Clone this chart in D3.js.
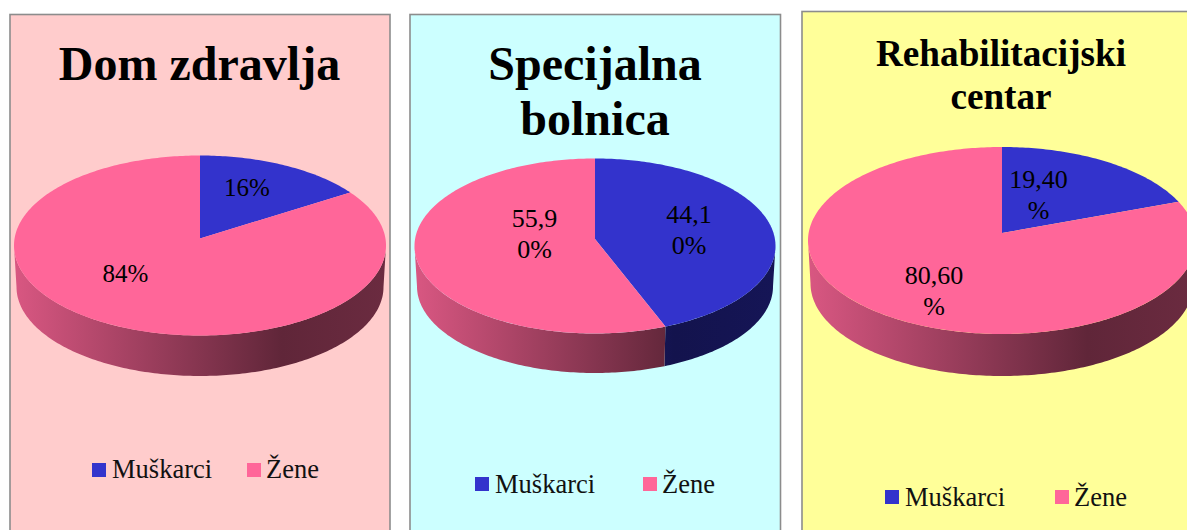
<!DOCTYPE html>
<meta charset="utf-8">
<style>
html, body { margin: 0; background: #fff; overflow: hidden; }
svg { display: block; }
text { font-family: "Liberation Serif", serif; fill: #000; }
.title { font-weight: bold; text-anchor: middle; }
.label { text-anchor: middle; }
.legend { font-size: 26.5px; fill: #111; }
</style>
<body>
<script src="https://d3js.org/d3.v7.min.js"></script>
<script>
// data
var seriesNames = ["Muškarci", "Žene"];
var seriesColors = ["#3333cc", "#ff6699"];

var domZdravlja = [16, 84];
var specijalnaBolnica = [44.1, 55.9];
var rehabCentar = [19.4, 80.6];

var domTitle = ["Dom zdravlja"];
var specTitle = ["Specijalna", "bolnica"];
var rehabTitle = ["Rehabilitacijski", "centar"];

var domLabels = [["16%"], ["84%"]];
var specLabels = [["44,1", "0%"], ["55,9", "0%"]];
var rehabLabels = [["19,40", "%"], ["80,60", "%"]];

// layout of the three panels
var panels = [
  { values: domZdravlja, title: domTitle, labels: domLabels, bg: "#ffcccc",
    box: [10, 14.5, 380], titleX: 199.5, titleY: [80], titleSize: 48,
    cx: 200, cy: 245.5, rx: 186, ry: 90, depth: 41.5, tilt: 0.078,
    labelSize: 25, labelPos: [[247, 196], [125.5, 282]],
    legendY: 463, legendTextY: 478, legendX: [92, 247] },
  { values: specijalnaBolnica, title: specTitle, labels: specLabels, bg: "#ccffff",
    box: [410, 14.5, 370.5], titleX: 595, titleY: [80, 135], titleSize: 48,
    cx: 595, cy: 246, rx: 180.5, ry: 87.5, depth: 40.5, tilt: 0.08,
    labelSize: 26, labelPos: [[689, 223], [534.5, 227]],
    legendY: 477, legendTextY: 493, legendX: [475, 643] },
  { values: rehabCentar, title: rehabTitle, labels: rehabLabels, bg: "#ffff99",
    box: [802, 11.5, 400], titleX: 1001, titleY: [66, 108.5], titleSize: 37.2,
    cx: 1002, cy: 240.5, rx: 194, ry: 93.5, depth: 43, tilt: 0.08,
    labelSize: 26, labelPos: [[1038.5, 188], [934, 284]],
    legendY: 490, legendTextY: 506, legendX: [885, 1055] }
];

var width = 1187, height = 530;

var svg = d3.select("body").append("svg")
    .attr("width", width)
    .attr("height", height);

var defs = svg.append("defs");
var pie = d3.pie().sort(null);
var line = d3.line();

// side wall shading, as factors of the slice colour
function shade(color, f) {
  var c = d3.rgb(color);
  return d3.rgb(c.r * f, c.g * f, c.b * f).formatHex();
}

panels.forEach(function(p, pi) {
  var g = svg.append("g");

  g.append("rect")
      .attr("x", p.box[0])
      .attr("y", p.box[1])
      .attr("width", p.box[2])
      .attr("height", height)
      .attr("fill", p.bg)
      .attr("stroke", "#8c8c8c")
      .attr("stroke-width", 1.6);

  g.selectAll(".title")
    .data(p.title)
    .enter().append("text")
      .attr("class", "title")
      .attr("x", p.titleX)
      .attr("y", function(d, i) { return p.titleY[i]; })
      .style("font-size", p.titleSize + "px")
      .text(function(d) { return d; });

  // unit circle -> screen, top and bottom faces of the disc
  var x = d3.scaleLinear().domain([-1, 1]).range([p.cx - p.rx, p.cx + p.rx]);
  var y = d3.scaleLinear().domain([-1, 1]).range([p.cy + p.ry, p.cy - p.ry]);
  var xb = d3.scaleLinear().domain([-1, 1]).range([p.cx - p.rx + 2.5, p.cx + p.rx - 2.5]);
  var yb = d3.scaleLinear().domain([-1, 1]).range([p.cy + p.depth + p.ry - 1, p.cy + p.depth - p.ry + 1]);

  // the pie is seen in perspective, so its centre sits above the ellipse centre
  var c = p.tilt;
  function project(a, sx, sy) {
    var u = Math.sin(a), v = Math.cos(a), w = 1 + c * v;
    return [sx(u * Math.sqrt(1 - c * c) / w), sy((v + c) / w)];
  }
  function rim(a0, a1, sx, sy) {
    var n = Math.max(2, Math.ceil(Math.abs(a1 - a0) * 60));
    return d3.range(n + 1).map(function(i) {
      return project(a0 + (a1 - a0) * i / n, sx, sy);
    });
  }

  var slices = pie(p.values);
  var wallStart = Math.acos(-c), wallEnd = 2 * Math.PI - wallStart;

  slices.forEach(function(s, i) {
    var id = "wall" + pi + "-" + i;
    var grad = defs.append("linearGradient")
        .attr("id", id)
        .attr("gradientUnits", "userSpaceOnUse")
        .attr("x1", p.cx - p.rx).attr("x2", p.cx + p.rx)
        .attr("y1", 0).attr("y2", 0);
    [[0, 0.85], [0.72, 0.375], [1, 0.42]].forEach(function(st) {
      grad.append("stop")
          .attr("offset", st[0])
          .attr("stop-color", shade(seriesColors[i], st[1]));
    });

    var a0 = Math.max(s.startAngle, wallStart), a1 = Math.min(s.endAngle, wallEnd);
    if (a1 > a0) {
      var pts = rim(a0, a1, x, y).concat(rim(a1, a0, xb, yb));
      g.append("path")
          .attr("d", line(pts) + "Z")
          .attr("fill", "url(#" + id + ")");
    }
  });

  slices.forEach(function(s, i) {
    var pts = [[x(0), y(c)]].concat(rim(s.startAngle, s.endAngle, x, y));
    g.append("path")
        .attr("d", line(pts) + "Z")
        .attr("fill", seriesColors[i]);
  });

  p.labels.forEach(function(lines, i) {
    g.selectAll(".l" + i)
      .data(lines)
      .enter().append("text")
        .attr("class", "label l" + i)
        .attr("x", p.labelPos[i][0])
        .attr("y", function(d, j) { return p.labelPos[i][1] + j * 31; })
        .style("font-size", p.labelSize + "px")
        .text(function(d) { return d; });
  });

  seriesNames.forEach(function(name, i) {
    g.append("rect")
        .attr("x", p.legendX[i])
        .attr("y", p.legendY)
        .attr("width", 14)
        .attr("height", 14)
        .attr("fill", seriesColors[i]);
    g.append("text")
        .attr("class", "legend")
        .attr("x", p.legendX[i] + (i ? 19 : 20))
        .attr("y", p.legendTextY)
        .text(name);
  });
});
</script>
</body>
